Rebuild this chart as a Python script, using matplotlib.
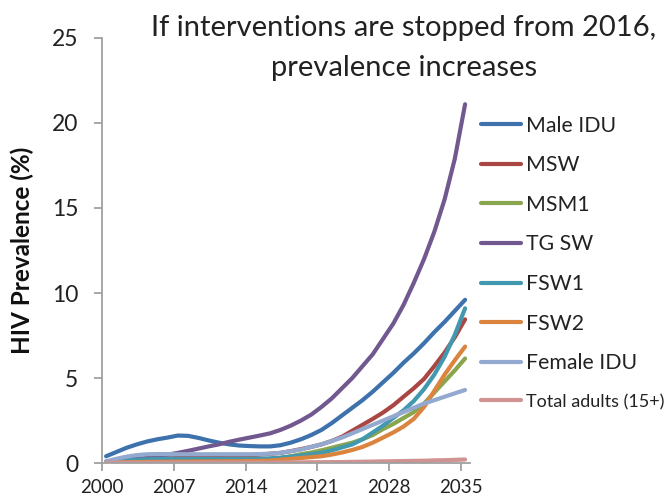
import numpy as np
import matplotlib
matplotlib.use("Agg")
import matplotlib.pyplot as plt

plt.rcParams['font.family'] = ['Lato', 'DejaVu Sans']

years = list(range(2000, 2036))

male_idu = [0.4, 0.65, 0.9, 1.1, 1.27, 1.4, 1.5, 1.62, 1.6, 1.48, 1.33, 1.2, 1.1, 1.03, 1.0, 0.98,
            0.98, 1.05, 1.2, 1.4, 1.65, 1.95, 2.35, 2.8, 3.25, 3.7, 4.2, 4.75, 5.3, 5.9, 6.45,
            7.05, 7.7, 8.3, 8.95, 9.6]
msw = [0.05, 0.1, 0.15, 0.2, 0.22, 0.25, 0.27, 0.3, 0.32, 0.34, 0.36, 0.38, 0.4, 0.42, 0.45, 0.5,
       0.55, 0.6, 0.7, 0.82, 0.95, 1.1, 1.3, 1.55, 1.9, 2.25, 2.6, 2.97, 3.4, 3.9, 4.4,
       4.95, 5.7, 6.5, 7.4, 8.45]
msm1 = [0.03, 0.06, 0.09, 0.12, 0.14, 0.15, 0.16, 0.17, 0.18, 0.18, 0.19, 0.19, 0.2, 0.2, 0.21, 0.22,
        0.24, 0.3, 0.4, 0.52, 0.62, 0.75, 0.9, 1.05, 1.2, 1.4, 1.65, 2.0, 2.3, 2.65, 3.0,
        3.5, 4.15, 4.8, 5.45, 6.15]
tg_sw = [0.1, 0.15, 0.2, 0.25, 0.3, 0.4, 0.5, 0.6, 0.72, 0.85, 0.98, 1.1, 1.25, 1.38, 1.5, 1.62,
         1.75, 1.95, 2.2, 2.5, 2.85, 3.3, 3.8, 4.4, 5.0, 5.7, 6.4, 7.3, 8.2, 9.3, 10.6,
         12.0, 13.6, 15.5, 17.9, 21.1]
fsw1 = [0.08, 0.12, 0.16, 0.2, 0.22, 0.24, 0.25, 0.25, 0.25, 0.25, 0.25, 0.25, 0.25, 0.25, 0.25, 0.26,
        0.28, 0.32, 0.38, 0.45, 0.52, 0.6, 0.75, 0.92, 1.1, 1.4, 1.8, 2.2, 2.65, 3.1, 3.65,
        4.35, 5.2, 6.25, 7.55, 9.1]
fsw2 = [0.02, 0.04, 0.05, 0.06, 0.07, 0.08, 0.08, 0.09, 0.09, 0.1, 0.1, 0.1, 0.11, 0.11, 0.12, 0.13,
        0.15, 0.2, 0.25, 0.3, 0.35, 0.4, 0.5, 0.62, 0.77, 0.95, 1.2, 1.5, 1.8, 2.15, 2.6,
        3.3, 4.25, 5.2, 6.05, 6.85]
female_idu = [0.1, 0.25, 0.38, 0.47, 0.52, 0.53, 0.53, 0.52, 0.52, 0.52, 0.52, 0.52, 0.52, 0.52, 0.52, 0.53,
              0.55, 0.6, 0.7, 0.8, 0.95, 1.1, 1.3, 1.5, 1.75, 2.0, 2.25, 2.5, 2.75, 3.0, 3.25,
              3.5, 3.7, 3.9, 4.1, 4.3]
total_adults = [0.02, 0.02, 0.02, 0.02, 0.02, 0.03, 0.03, 0.03, 0.03, 0.03, 0.03, 0.03, 0.03, 0.03, 0.03, 0.03,
                0.03, 0.04, 0.04, 0.04, 0.05, 0.05, 0.06, 0.06, 0.07, 0.08, 0.09, 0.1, 0.11, 0.12, 0.13,
                0.14, 0.16, 0.17, 0.19, 0.21]

series_names = ["Male IDU", "MSW", "MSM1", "TG SW", "FSW1", "FSW2", "Female IDU", "Total adults (15+)"]
series_values = [male_idu, msw, msm1, tg_sw, fsw1, fsw2, female_idu, total_adults]
colors = ["#3D72AC", "#AA4643", "#89A54E", "#71588F", "#4198AF", "#DB843D", "#93A9CF", "#D19392"]

tick_years = [2000, 2007, 2014, 2021, 2028, 2035]
tick_labels = [str(y) for y in tick_years]
y_ticks = [0, 5, 10, 15, 20, 25]

fig = plt.figure(figsize=(6.71, 4.99), dpi=100)
ax = fig.add_axes([0.152, 0.072, 0.548, 0.852])

for name, vals, c in zip(series_names, series_values, colors):
    ax.plot(years, vals, color=c, lw=3.0, solid_capstyle='round', label=name)

ax.set_xlim(1999.6, 2035.45)
ax.set_ylim(0, 25)
ax.set_xticks(np.array(tick_years) - 0.4)
ax.set_xticklabels(tick_labels, fontsize=13.5, color="#222222")
ax.set_yticks(y_ticks)
ax.set_yticklabels([str(v) for v in y_ticks], fontsize=16.5, color="#222222")

for s in ["top", "right"]:
    ax.spines[s].set_visible(False)
for s in ["left", "bottom"]:
    ax.spines[s].set_color("#A0A0A0")
    ax.spines[s].set_linewidth(1.3)
ax.tick_params(axis='both', direction='out', color="#A0A0A0", width=1.3, length=6)
ax.tick_params(axis='y', pad=11)
ax.tick_params(axis='x', pad=5.5)

ax.set_ylabel("HIV Prevalence (%)", fontsize=17.5, fontweight='bold', color="#111111")
ax.yaxis.set_label_coords(-0.185, 0.5)

fig.text(0.602, 0.944, "If interventions are stopped from 2016,",
         ha='center', va='center', fontsize=21, color="#222222")
fig.text(0.602, 0.864, "prevalence increases",
         ha='center', va='center', fontsize=21, color="#222222")

leg = ax.legend(loc='upper left', bbox_to_anchor=(0.717, 0.768), bbox_transform=fig.transFigure,
                frameon=False, fontsize=15.3, handlelength=1.9, handletextpad=0.2,
                labelspacing=0.92, borderaxespad=0, borderpad=0)
for t in leg.get_texts():
    t.set_color("#222222")
leg.get_texts()[-1].set_fontsize(13)

fig.savefig("out.png", dpi=100)
